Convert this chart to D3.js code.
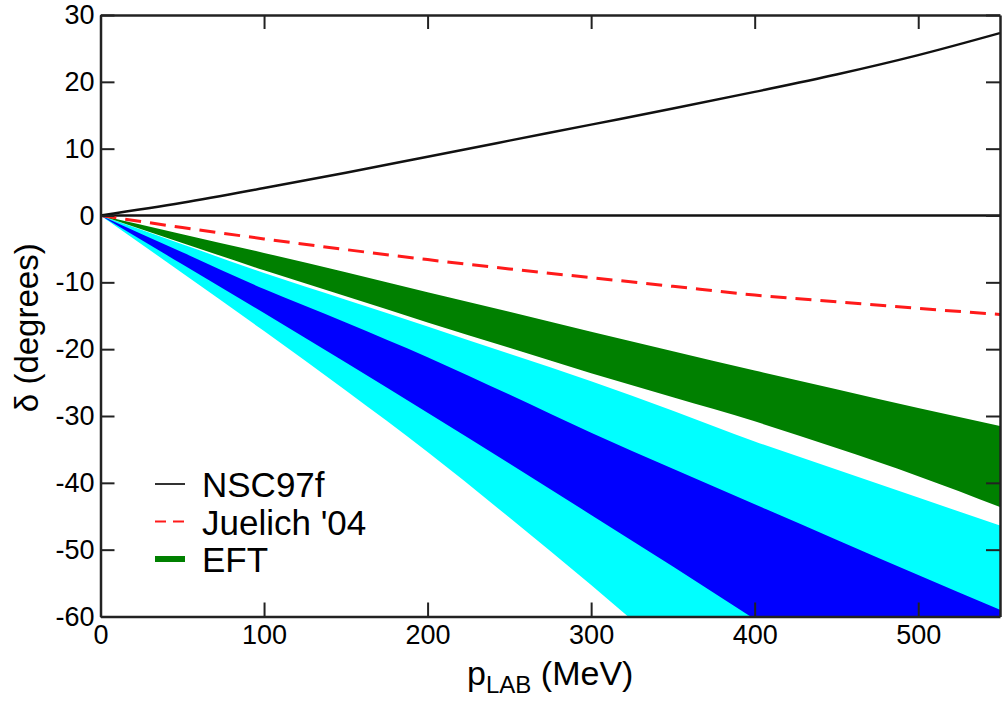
<!DOCTYPE html>
<html>
<head>
<meta charset="utf-8">
<script src="https://cdn.jsdelivr.net/npm/d3@7"></script>
<style>
  body { margin: 0; background: #fff; }
  svg { display: block; font-family: "Liberation Sans", Arial, sans-serif; }
  .axis path, .axis line { stroke: #222; }
  .axis text { font-size: 27px; fill: #000; }
</style>
</head>
<body>
<script>
// momentum grid (MeV) and the curves (degrees)
const pLab = [0, 50, 100, 150, 200, 250, 300, 350, 400, 450, 500, 550];
const nsc97f = [0, 1.9, 4.1, 6.4, 8.8, 11.2, 13.6, 16.0, 18.5, 21.1, 24.0, 27.3];
const juelich04 = [0, -1.8, -3.5, -5.1, -6.6, -8.0, -9.3, -10.6, -11.9, -12.9, -13.9, -14.8];
const eftUpper = [0, -2.8, -5.6, -8.5, -11.5, -14.4, -17.4, -20.3, -23.2, -26.0, -28.8, -31.5];
const eftLower = [0, -4.1, -8.2, -12.1, -16.0, -19.8, -23.6, -27.2, -30.8, -34.8, -39.0, -43.6];
const cyanUpper = [0, -4.3, -8.6, -12.6, -16.6, -20.7, -24.8, -29.2, -33.8, -38.0, -42.2, -46.4];
const cyanLower = [0, -8.6, -17.3, -26.2, -35.4, -45.2, -55.3, -65.8, -76.5, -87.5, -98.8, -110];
const blueUpper = [0, -5.5, -11.0, -16.0, -21.2, -26.8, -32.5, -37.9, -43.2, -48.5, -53.8, -59.0];
const blueLower = [0, -7.3, -14.6, -22.0, -29.5, -37.1, -44.8, -52.5, -60.4, -68.4, -76.5, -84.7];

const xTicks = [0, 100, 200, 300, 400, 500];
const yTicks = [-60, -50, -40, -30, -20, -10, 0, 10, 20, 30];
const legendItems = ['NSC97f', "Juelich '04", 'EFT'];

const W = 1002, H = 702;
const x = d3.scaleLinear().domain([0, 550]).range([100.5, 1000]);
const y = d3.scaleLinear().domain([-60, 30]).range([616.5, 15]);

const svg = d3.select('body').append('svg')
  .attr('width', W).attr('height', H);

svg.append('clipPath').attr('id', 'plot')
  .append('rect')
  .attr('x', x(0)).attr('y', y(30))
  .attr('width', x(550) - x(0)).attr('height', y(-60) - y(30));

const g = svg.append('g').attr('clip-path', 'url(#plot)');

const band = (hi, lo) => d3.area()
  .curve(d3.curveMonotoneX)
  .x((d, i) => x(pLab[i]))
  .y0((d, i) => y(lo[i]))
  .y1((d, i) => y(hi[i]))(pLab);

const line = vals => d3.line()
  .curve(d3.curveMonotoneX)
  .x((d, i) => x(pLab[i]))
  .y(d => y(d))(vals);

// bands: wide cyan, blue on top, then the green EFT band
g.append('path').attr('d', band(cyanUpper, cyanLower)).attr('fill', '#00ffff');
g.append('path').attr('d', band(blueUpper, blueLower)).attr('fill', '#0000ff');
g.append('path').attr('d', band(eftUpper, eftLower)).attr('fill', '#008000');

// zero line
g.append('line')
  .attr('x1', x(0)).attr('x2', x(550))
  .attr('y1', y(0)).attr('y2', y(0))
  .attr('stroke', '#111').attr('stroke-width', 2.5);

g.append('path').attr('d', line(juelich04))
  .attr('fill', 'none').attr('stroke', '#ff1a1a')
  .attr('stroke-width', 3).attr('stroke-dasharray', '16,9');

g.append('path').attr('d', line(nsc97f))
  .attr('fill', 'none').attr('stroke', '#111').attr('stroke-width', 2.5);

// axes with inward ticks on all four sides
const tick = 14;
const plain = d => String(d);
svg.append('g').attr('class', 'axis')
  .attr('transform', `translate(0,${y(-60)})`)
  .call(d3.axisBottom(x).tickValues(xTicks).tickSizeInner(-tick).tickSizeOuter(0).tickPadding(8).tickFormat(plain));
svg.append('g').attr('class', 'axis')
  .attr('transform', `translate(0,${y(30)})`)
  .call(d3.axisTop(x).tickValues(xTicks).tickSizeInner(-tick).tickSizeOuter(0).tickFormat(''));
svg.append('g').attr('class', 'axis')
  .attr('transform', `translate(${x(0)},0)`)
  .call(d3.axisLeft(y).tickValues(yTicks).tickSizeInner(-tick).tickSizeOuter(0).tickPadding(6).tickFormat(plain));
svg.append('g').attr('class', 'axis')
  .attr('transform', `translate(${x(550)},0)`)
  .call(d3.axisRight(y).tickValues(yTicks).tickSizeInner(-tick).tickSizeOuter(0).tickFormat(''));

svg.selectAll('.axis path').attr('stroke-width', 2.5);
svg.selectAll('.axis line').attr('stroke-width', 2);

// axis titles
const xt = svg.append('text')
  .attr('x', (x(0) + x(550)) / 2).attr('y', 685)
  .attr('text-anchor', 'middle')
  .style('font-size', '34px');
xt.append('tspan').text('p');
xt.append('tspan').attr('dy', 8).style('font-size', '24px').text('LAB');
xt.append('tspan').attr('dy', -8).text(' (MeV)');

svg.append('text')
  .attr('transform', `translate(38,${(y(30) + y(-60)) / 2 + 12}) rotate(-90)`)
  .attr('text-anchor', 'middle')
  .style('font-size', '33px')
  .text('δ  (degrees)');

// legend
const leg = svg.append('g').attr('transform', 'translate(155,484)');
const rowH = 37.5;
leg.selectAll('text').data(legendItems).enter().append('text')
  .attr('x', 47).attr('y', (d, i) => i * rowH + 13)
  .style('font-size', '35px')
  .text(d => d);
leg.append('line').attr('x1', 0).attr('x2', 30).attr('y1', 0).attr('y2', 0)
  .attr('stroke', '#333').attr('stroke-width', 2);
leg.append('line').attr('x1', 0).attr('x2', 30).attr('y1', rowH).attr('y2', rowH)
  .attr('stroke', '#ff1a1a').attr('stroke-width', 2).attr('stroke-dasharray', '11,7');
leg.append('line').attr('x1', 0).attr('x2', 30).attr('y1', 2 * rowH).attr('y2', 2 * rowH)
  .attr('stroke', '#008000').attr('stroke-width', 6);
</script>
</body>
</html>
